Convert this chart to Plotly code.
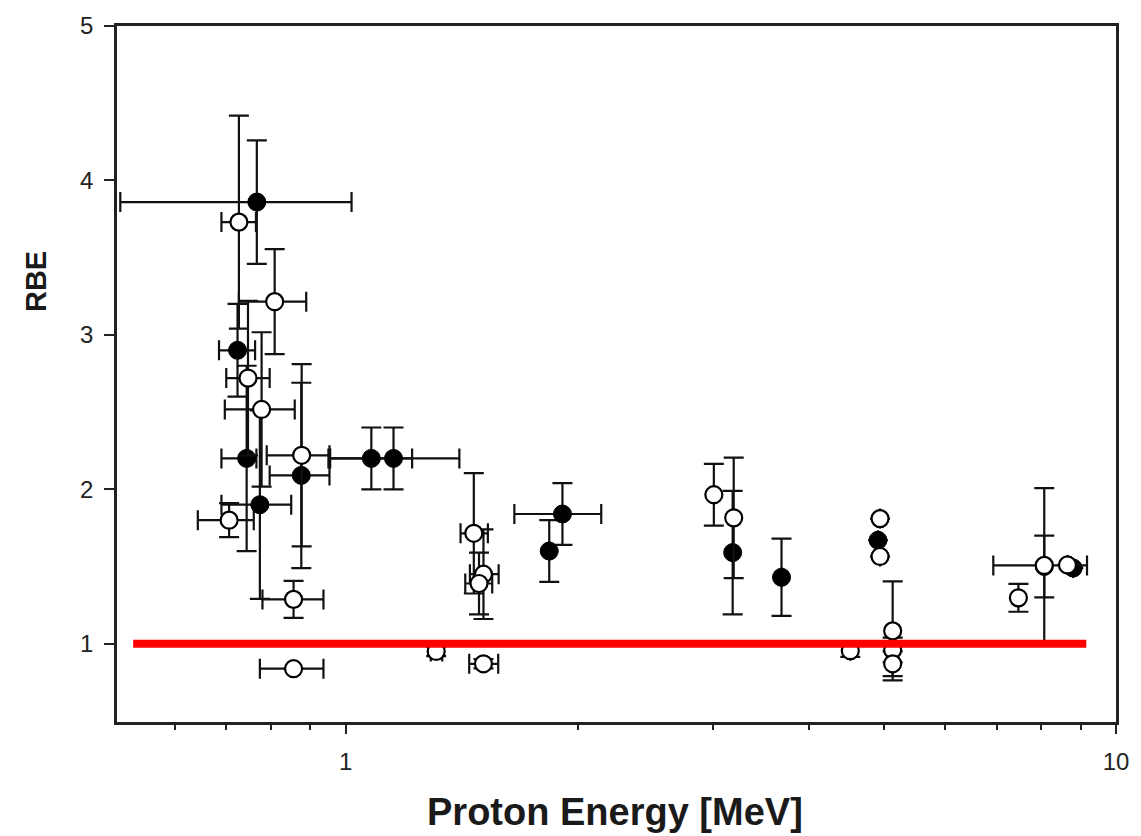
import math
import plotly.graph_objects as go

# ---------------- data ----------------
# filled (black) points
filled_x    = [0.767, 0.724, 0.744, 0.876, 0.774, 1.08, 1.154, 1.838, 1.912, 3.18, 3.68, 4.91, 8.07, 8.80]
filled_y    = [3.86, 2.90, 2.20, 2.09, 1.90, 2.20, 2.20, 1.60, 1.84, 1.59, 1.43, 1.67, 1.50, 1.49]
filled_xlo  = [0.51, 0.685, 0.69, 0.797, 0.69, 0.955, 0.95, 1.838, 1.656, 3.18, 3.68, 4.91, 8.07, 8.80]
filled_xhi  = [1.018, 0.763, 0.766, 0.953, 0.85, 1.22, 1.405, 1.838, 2.147, 3.18, 3.68, 4.91, 8.07, 8.80]
filled_yerr = [0.40, 0.30, 0.60, 0.60, 0.61, 0.20, 0.20, 0.20, 0.20, 0.40, 0.25, 0.0, 0.20, 0.0]

# open (white) points
open_x    = [0.727, 0.809, 0.747, 0.778, 0.877, 0.706, 0.856, 0.856, 1.311, 1.467, 1.51, 1.49, 1.51,
             3.006, 3.19, 4.52, 4.94, 4.94, 5.13, 5.13, 5.13, 8.07, 8.65, 7.47]
open_y    = [3.73, 3.215, 2.72, 2.517, 2.22, 1.80, 1.287, 0.838, 0.95, 1.715, 1.45, 1.39, 0.87,
             1.965, 1.815, 0.955, 1.81, 1.565, 1.083, 0.96, 0.87, 1.507, 1.51, 1.297]
open_xlo  = [0.69, 0.727, 0.70, 0.697, 0.79, 0.643, 0.78, 0.774, 1.29, 1.41, 1.45, 1.43, 1.447,
             3.006, 3.19, 4.52, 4.94, 4.94, 5.13, 5.13, 5.13, 6.93, 8.65, 7.47]
open_xhi  = [0.765, 0.889, 0.797, 0.859, 0.953, 0.76, 0.936, 0.936, 1.335, 1.53, 1.58, 1.55, 1.578,
             3.006, 3.19, 4.52, 4.94, 4.94, 5.13, 5.13, 5.13, 9.17, 8.65, 7.47]
open_yerr = [0.69, 0.34, 0.50, 0.50, 0.59, 0.11, 0.12, 0.0, 0.03, 0.39, 0.29, 0.20, 0.03,
             0.20, 0.39, 0.04, 0.0, 0.0, 0.32, 0.08, 0.08, 0.50, 0.0, 0.09]

# reference line RBE = 1
ref_line_x = [0.53, 9.15]
ref_line_y = [1.0, 1.0]

# axes
x_range = [0.505, 10.0]
y_range = [0.493, 5.0]
x_tick_vals = [1, 10]
x_tick_text = ["1", "10"]
x_minor_vals = [0.6, 0.7, 0.8, 0.9, 2, 3, 4, 5, 6, 7, 8, 9]
y_tick_vals = [1, 2, 3, 4, 5]
y_tick_text = ["1", "2", "3", "4", "5"]

x_title = "Proton Energy [MeV]"
y_title = "RBE"

# ---------------- figure ----------------
INK = "#111111"


def err_x(x, lo, hi):
    return dict(type="data", symmetric=False,
                array=[h - v for v, h in zip(x, hi)],
                arrayminus=[v - l for v, l in zip(x, lo)],
                color=INK, thickness=2.2, width=10)


def err_y(e):
    return dict(type="data", symmetric=True, array=e,
                color=INK, thickness=2.2, width=10)


fig = go.Figure()

fig.add_trace(go.Scatter(
    x=filled_x, y=filled_y, mode="markers",
    marker=dict(symbol="circle", size=18, color="#000000",
                line=dict(color="#000000", width=1)),
    error_x=err_x(filled_x, filled_xlo, filled_xhi),
    error_y=err_y(filled_yerr),
    showlegend=False, hoverinfo="skip"))

fig.add_trace(go.Scatter(
    x=open_x, y=open_y, mode="markers",
    marker=dict(symbol="circle", size=17, color="#ffffff",
                line=dict(color="#000000", width=2.2)),
    error_x=err_x(open_x, open_xlo, open_xhi),
    error_y=err_y(open_yerr),
    showlegend=False, hoverinfo="skip"))

fig.add_trace(go.Scatter(
    x=ref_line_x, y=ref_line_y, mode="lines",
    line=dict(color="#ff0000", width=8),
    showlegend=False, hoverinfo="skip"))

L, R, T, B = 117, 22, 20, 114
W, H = 1141, 836
pw, ph = W - L - R, H - T - B

fig.update_layout(
    width=W, height=H,
    margin=dict(l=L, r=R, t=T, b=B, pad=0),
    paper_bgcolor="#ffffff", plot_bgcolor="#ffffff",
    font=dict(family="Liberation Sans, Arial, sans-serif", color="#222222", size=24),
    showlegend=False,
)

fig.update_xaxes(
    type="log",
    range=[math.log10(x_range[0]), math.log10(x_range[1])],
    tickvals=x_tick_vals, ticktext=x_tick_text,
    ticks="outside", ticklen=9, tickwidth=1.5, tickcolor="#222222",
    ticklabelstandoff=7,
    minor=dict(tickvals=x_minor_vals, ticks="outside", ticklen=5, tickwidth=1.5,
               tickcolor="#222222", showgrid=False),
    showgrid=False, zeroline=False,
    showline=True, linecolor="#222222", linewidth=2.5, mirror=True,
    tickfont=dict(size=24, color="#222222"),
)

fig.update_yaxes(
    range=y_range,
    tickvals=y_tick_vals, ticktext=y_tick_text,
    ticks="outside", ticklen=10, tickwidth=1.5, tickcolor="#222222",
    ticklabelstandoff=6,
    showgrid=False, zeroline=False,
    showline=True, linecolor="#222222", linewidth=2.5, mirror=True,
    tickfont=dict(size=24, color="#222222"),
)

# axis titles as annotations placed like the reference
fig.add_annotation(
    text=x_title, xref="paper", yref="paper",
    x=(616 - L) / pw, y=(H - B - 813) / ph,
    showarrow=False, xanchor="center", yanchor="middle",
    font=dict(size=38, color="#1a1a1a", family="Liberation Sans, Arial, sans-serif",
              weight="bold"))

fig.add_annotation(
    text=y_title, xref="paper", yref="paper",
    x=(36 - L) / pw, y=(H - B - 278) / ph,
    textangle=-90,
    showarrow=False, xanchor="center", yanchor="middle",
    font=dict(size=29, color="#1a1a1a", family="Liberation Sans, Arial, sans-serif",
              weight="bold"))

fig.write_html("out.html")
